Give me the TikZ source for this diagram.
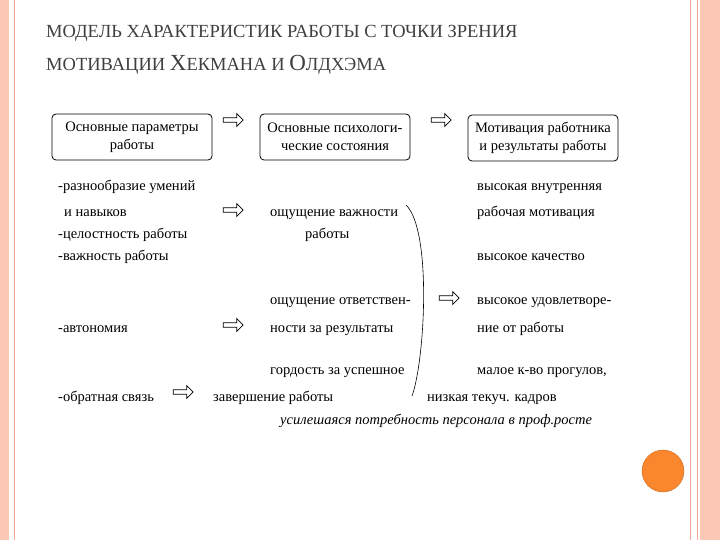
\documentclass[tikz,border=0pt]{standalone}
\usepackage{fontspec}
\setmainfont{Liberation Serif}
\usetikzlibrary{shapes.arrows}
\definecolor{salmon}{RGB}{250,200,180}
\definecolor{salline}{RGB}{240,170,150}
\definecolor{orng}{RGB}{250,135,45}
\begin{document}
\begin{tikzpicture}[x=1pt,y=-1pt,
  hdr/.style={draw,rounded corners=4pt,thick,minimum width=160pt,minimum height=46pt,align=center,font=\fontsize{14.5}{18}\selectfont,inner sep=1pt},
  harrow/.style={single arrow,draw,thick,minimum height=20pt,minimum width=13pt,single arrow head extend=2.5pt,inner sep=1pt},
  txt/.style={anchor=base west,inner sep=0pt,font=\fontsize{14.5}{16}\selectfont}]
\useasboundingbox (0,0) rectangle (720,540);
\fill[white] (0,0) rectangle (720,540);
\fill[salmon] (0,0) rectangle (9,540);
\draw[salline,thick] (14,0) -- (14,540);
\fill[salmon] (700,0) rectangle (720,540);
\draw[salline,thick] (690,0) -- (690,540);
\draw[salline] (697,0) -- (697,540);
\node[circle,fill=orng,draw=orng!80!black,minimum size=42pt,inner sep=0pt] (dot) at (663,471) {};
\node[anchor=base west,inner sep=0pt,text=black!75,font=\fontsize{18.5}{20}\selectfont] (t1) at (46,38) {МОДЕЛЬ ХАРАКТЕРИСТИК РАБОТЫ С ТОЧКИ ЗРЕНИЯ};
\node[anchor=base west,inner sep=0pt,text=black!75,font=\fontsize{18.5}{20}\selectfont] (t2) at (46,71) {МОТИВАЦИИ {\fontsize{23}{23}\selectfont Х}ЕКМАНА И {\fontsize{23}{23}\selectfont О}ЛДХЭМА};
\node[hdr,minimum width=160pt] (b1) at (132,137) {Основные параметры\\работы};
\node[hdr,minimum width=150pt] (b2) at (335,137) {Основные психологи-\\ческие состояния};
\node[hdr,minimum width=150pt] (b3) at (543,138) {Мотивация работника\\и результаты работы};
\node[harrow] (a1) at (232,120) {};
\node[harrow] (a2) at (440,120) {};
\node[harrow] (a3) at (232,210) {};
\node[harrow] (a4) at (232,325) {};
\node[harrow] (a5) at (182,392) {};
\node[harrow] (a6) at (448,298) {};
\node[txt] (l1) at (58,191) {-разнообразие умений};
\node[txt] (l2) at (64,217) {и навыков};
\node[txt] (l3) at (58,239) {-целостность работы};
\node[txt] (l4) at (58,260) {-важность работы};
\node[txt] (l5) at (58,332) {-автономия};
\node[txt] (l6) at (58,401) {-обратная связь};
\node[txt] (m1) at (270,217) {ощущение важности};
\node[txt] (m2) at (305,239) {работы};
\node[txt] (m3) at (270,304) {ощущение ответствен-};
\node[txt] (m4) at (270,332) {ности за результаты};
\node[txt] (m5) at (270,374) {гордость за успешное};
\node[txt] (m6) at (213,401) {завершение работы};
\node[txt] (r1) at (477,191) {высокая внутренняя};
\node[txt] (r2) at (477,217) {рабочая мотивация};
\node[txt] (r3) at (477,260) {высокое качество};
\node[txt] (r4) at (477,304) {высокое удовлетворе-};
\node[txt] (r5) at (477,332) {ние от работы};
\node[txt] (r6) at (477,374) {малое к-во прогулов,};
\node[txt] (r7) at (427,401) {низкая текуч. кадров};
\node[txt,font=\fontsize{14.5}{16}\selectfont\itshape] (r8) at (280,424) {усилешаяся потребность персонала в проф.росте};
\coordinate (bt) at (406,205);
\coordinate (bb) at (412,396);
\draw[semithick] (bt) .. controls (432,230) and (425,360) .. (bb);
\end{tikzpicture}
\end{document}
